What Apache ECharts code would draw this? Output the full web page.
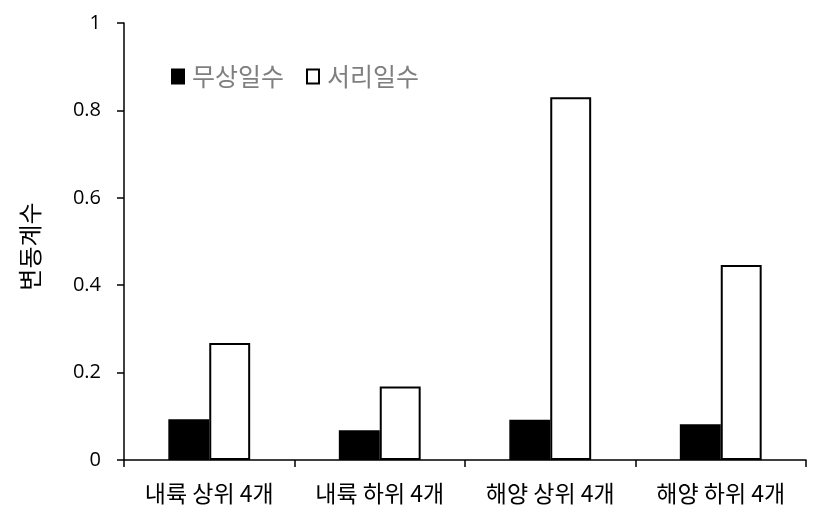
<!DOCTYPE html>
<html><head><meta charset="utf-8">
<script src="https://cdn.jsdelivr.net/npm/echarts@6/dist/echarts.min.js"></script>
<style>html,body{margin:0;padding:0;background:#fff}#c{width:813px;height:523px}</style>
</head><body><div id="c"></div>
<script>
const categories = ['내륙 상위 4개', '내륙 하위 4개', '해양 상위 4개', '해양 하위 4개'];
const frostFreeDays = [0.093, 0.068, 0.092, 0.082];
const frostDays = [0.268, 0.168, 0.830, 0.446];
const seriesNames = ['무상일수', '서리일수'];
const yAxisTitle = '변동계수';

const chart = echarts.init(document.getElementById('c'), null, {renderer: 'canvas'});
const FONT = '"Noto Sans CJK KR", "Open Sans", sans-serif';
chart.setOption({
  animation: false,
  backgroundColor: '#fff',
  grid: {left: 124, right: 7, top: 23, bottom: 63, containLabel: false},
  legend: {
    left: 166, top: 59, icon: 'rect', itemWidth: 12, itemHeight: 14, itemGap: 22,
    textStyle: {color: '#7f7f7f', fontSize: 25, fontFamily: FONT, padding: [0,0,0,3]},
    data: seriesNames
  },
  xAxis: {
    type: 'category', data: categories,
    axisLine: {lineStyle: {color: '#000', width: 1.5}},
    axisTick: {show: true, alignWithLabel: false, length: 7, lineStyle: {color: '#000', width: 1.5}},
    axisLabel: {color: '#000', fontSize: 23, fontFamily: FONT, margin: 22, interval: 0, hideOverlap: false},
    splitLine: {show: false}
  },
  yAxis: {
    type: 'value', min: 0, max: 1, interval: 0.2,
    name: yAxisTitle, nameLocation: 'middle', nameGap: 82, nameRotate: 90,
    nameTextStyle: {color: '#000', fontSize: 24, fontFamily: FONT, padding: [0, 10, 0, 0]},
    axisLine: {show: true, lineStyle: {color: '#000', width: 1.5}},
    axisTick: {show: true, length: 7, lineStyle: {color: '#000', width: 1.5}},
    axisLabel: {color: '#000', fontSize: 20, fontFamily: '"Open Sans", sans-serif', margin: 23},
    splitLine: {show: false}
  },
  series: [
    {name: seriesNames[0], type: 'bar', data: frostFreeDays, barWidth: '24%', barGap: '0%',
     itemStyle: {color: '#000', borderColor: '#000', borderWidth: 1.5}},
    {name: seriesNames[1], type: 'bar', data: frostDays, barWidth: '24%', barGap: '0%',
     itemStyle: {color: '#fff', borderColor: '#000', borderWidth: 2}}
  ]
});
</script></body></html>
